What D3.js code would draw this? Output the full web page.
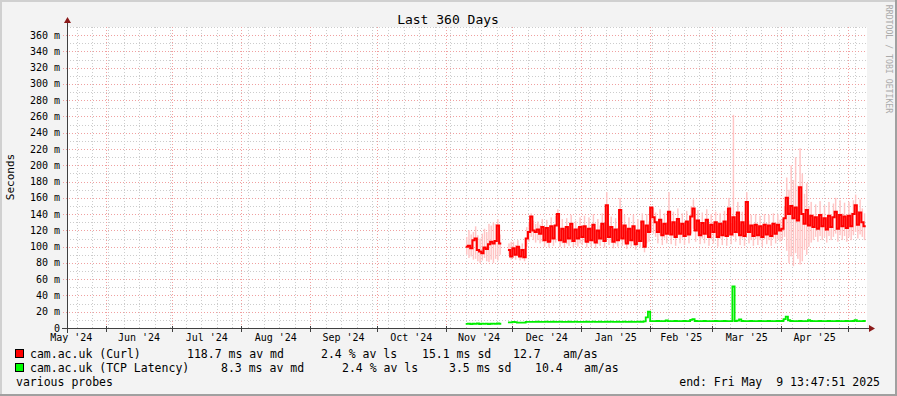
<!DOCTYPE html>
<html>
<head>
<meta charset="utf-8">
<script src="https://cdn.jsdelivr.net/npm/d3@7"></script>
<style>
body{margin:0;background:#fff;}
svg{display:block;font-family:"DejaVu Sans Mono",monospace;}
</style>
</head>
<body>
<svg id="chart" width="897" height="396"></svg>
<script>
//=============DATA==============//
// one value per day, starting 10 Nov 2024; null = no data
const firstDay = new Date(2024, 10, 10);
const startTime = new Date(2024, 4, 14, 13, 47, 51);
const endTime = new Date(2025, 4, 9, 13, 47, 51);

const curlMedian = [
  100, 101, 98, 108, 110, 96, 94, 92, 99, 97, 103, 106, 104, 107, 126, 104,
  null, null, null, 96, 88,
  98, 90, 100, 88, 96, 87, 110, 118, 137, 120, 118, 121, 116, 124, 108, 123, 106, 125, 110, 126, 140, 108, 122, 106, 124, 110, 128, 107, 121, 110, 124,
  112, 125, 106, 122, 108, 127, 105, 120, 110, 128, 107, 151, 112, 124, 106, 121, 108, 145, 110, 126, 104, 122, 108, 125, 103, 120, 107, 131, 100, 126, 118,
  148, 136, 130, 118, 133, 114, 128, 116, 143, 115, 130, 112, 134, 116, 128, 113, 131, 115, 137, 147, 120, 132, 114, 129, 116, 133, 112, 127,
  118, 130, 112, 128, 114, 131, 113, 147, 115, 136, 118, 142, 114, 130, 113, 155, 118, 126, 113, 127, 114, 125, 112, 127, 115, 126, 113, 128, 116, 127, 120,
  122, 135, 160, 140, 150, 135, 148, 132, 173, 140, 128, 145, 126, 138, 124, 136, 122, 139, 125, 135, 121, 138, 124, 136, 143, 122, 139, 125, 137, 123,
  138, 125, 140, 151, 127, 142, 130, 125
];

const curlLow = [
  90, 86, 88, 84, 85, 82, 80, 83, 86, 82, 81, 84, 80, 85, 83, 90,
  null, null, null, 90, 84,
  86, 84, 88, 83, 85, 82, 100, 106, 112, 108, 105, 108, 104, 106, 100, 104, 99, 106, 101, 105, 108, 100, 104, 99, 103, 101, 105, 99, 102, 100, 104,
  102, 106, 99, 104, 100, 106, 98, 103, 101, 106, 99, 112, 102, 105, 98, 103, 100, 110, 101, 105, 97, 103, 100, 105, 96, 102, 99, 108, 93, 104, 106,
  118, 116, 112, 104, 114, 102, 110, 104, 118, 103, 111, 101, 114, 104, 110, 102, 112, 104, 116, 122, 106, 113, 103, 110, 104, 114, 101, 109,
  104, 112, 100, 110, 102, 112, 101, 118, 103, 112, 106, 116, 102, 110, 101, 120, 104, 108, 101, 109, 102, 108, 100, 109, 103, 108, 101, 110, 104, 109, 106,
  108, 112, 95, 80, 88, 76, 92, 85, 78, 82, 96, 90, 100, 105, 108, 112, 106, 113, 108, 112, 105, 113, 108, 112, 116, 106, 114, 108, 113, 106,
  112, 108, 114, 118, 110, 115, 112, 108
];

const curlHigh = [
  112, 120, 115, 118, 125, 114, 110, 116, 122, 118, 128, 126, 130, 128, 134, 115,
  null, null, null, 104, 106,
  106, 102, 108, 100, 104, 98, 124, 130, 141, 132, 128, 131, 127, 134, 122, 133, 120, 136, 124, 138, 146, 122, 134, 120, 135, 124, 139, 121, 132, 124, 136,
  126, 138, 121, 136, 124, 140, 120, 134, 126, 141, 122, 167, 127, 137, 121, 135, 123, 160, 125, 139, 119, 136, 123, 139, 118, 134, 122, 141, 116, 140, 131,
  149, 148, 142, 131, 146, 128, 141, 130, 167, 129, 143, 126, 147, 130, 141, 127, 144, 129, 150, 158, 133, 145, 128, 142, 130, 146, 126, 140,
  131, 143, 126, 141, 128, 144, 127, 160, 129, 262, 132, 155, 128, 143, 127, 167, 132, 139, 127, 140, 128, 138, 126, 140, 129, 139, 127, 141, 130, 140, 133,
  134, 150, 185, 170, 200, 182, 210, 175, 221, 190, 165, 178, 150, 155, 140, 152, 137, 156, 141, 151, 136, 155, 140, 153, 160, 138, 157, 141, 154, 139,
  155, 142, 157, 164, 144, 158, 147, 141
];

const tcpLatency = [
  5, 5.5, 4.8, 5.2, 5, 5.6, 4.9, 5.3, 5, 5.5, 4.8, 5.2, 5.4, 5, 5.6, 5.2,
  null, null, null, 7, 7,
  7.5, 7.3, 6.6, 6.5, 6.5, 6.6, 7.5, 7.6, 7.5, 7.6, 7.5, 7.7, 7.5, 7.6, 7.5, 7.8, 7.5, 7.6, 7.7, 7.5, 7.6, 7.8, 7.5, 7.6, 7.5, 7.7, 7.6, 7.5, 7.8, 7.6, 7.5,
  7.6, 7.5, 7.7, 7.6, 7.5, 7.8, 7.6, 7.5, 7.7, 7.6, 7.5, 7.7, 7.6, 7.8, 7.5, 7.6, 7.7, 7.5, 7.6, 7.8, 7.6, 7.5, 7.7, 7.6, 7.5, 7.8, 7.6, 7.7, 8.2, 13, 20,
  8.5, 8.4, 8.5, 8.6, 8.5, 8.4, 8.5, 9.4, 8.5, 8.4, 8.5, 8.6, 8.5, 8.4, 8.5, 8.6, 8.5, 8.4, 10, 11, 8.6, 8.5, 8.4, 8.5, 8.6, 8.5, 8.4, 8.5,
  8.5, 8.6, 8.5, 8.4, 8.5, 8.6, 8.5, 8.4, 8.5, 51, 8.6, 9, 10.5, 8.6, 8.5, 8.4, 8.5, 8.6, 8.5, 8.4, 8.5, 8.6, 8.5, 8.4, 8.5, 8.6, 8.5, 8.4, 8.5, 8.6, 8.5,
  8.6, 11, 14, 9.5, 8.6, 8.5, 8.4, 8.5, 8.6, 8.5, 8.4, 8.5, 9.8, 8.6, 8.5, 8.4, 8.5, 8.6, 8.5, 8.4, 8.5, 8.6, 8.5, 8.4, 8.5, 8.6, 8.5, 8.4, 8.5, 8.6,
  8.5, 8.4, 8.6, 9.6, 8.5, 8.4, 8.5, 8.6
];

const monthLabels = ["May '24", "Jun '24", "Jul '24", "Aug '24", "Sep '24", "Oct '24",
  "Nov '24", "Dec '24", "Jan '25", "Feb '25", "Mar '25", "Apr '25"];
const yTicks = [0, 20, 40, 60, 80, 100, 120, 140, 160, 180, 200, 220, 240, 260, 280, 300, 320, 340, 360];

const legendRows = [
  {color: "#ff0000", parts: [["cam.ac.uk (Curl)", 30], ["118.7 ms av md", 187], ["2.4 % av ls", 321], ["15.1 ms sd", 422], ["12.7", 513], ["am/as", 563]]},
  {color: "#00ff00", parts: [["cam.ac.uk (TCP Latency)", 30], ["8.3 ms av md", 221], ["2.4 % av ls", 342], ["3.5 ms sd", 449], ["10.4", 535], ["am/as", 584]]}
];

//=============SETUP==============//
const W = 897, H = 396;
const svg = d3.select("#chart");
const x = d3.scaleTime().domain([startTime, endTime]).range([67, 867]);
const y = d3.scaleLinear().domain([0, 370]).range([328, 27]);
const px = v => Math.round(v) + 0.5;
const dayDate = i => d3.timeDay.offset(firstDay, i);

// canvas + frame
svg.append("rect").attr("width", W).attr("height", H).attr("fill", "#f3f3f3");
svg.append("rect").attr("x", 0).attr("y", 0).attr("width", W).attr("height", 2).attr("fill", "#d0d0d0");
svg.append("rect").attr("x", 0).attr("y", 0).attr("width", 2).attr("height", H).attr("fill", "#d0d0d0");
svg.append("rect").attr("x", 0).attr("y", H - 2).attr("width", W).attr("height", 2).attr("fill", "#a0a0a0");
svg.append("rect").attr("x", W - 2).attr("y", 0).attr("width", 2).attr("height", H).attr("fill", "#a0a0a0");

svg.append("rect")
  .attr("x", x.range()[0]).attr("y", y.range()[1])
  .attr("width", x.range()[1] - x.range()[0]).attr("height", y.range()[0] - y.range()[1])
  .attr("fill", "#ffffff");

//=============GRID==============//
const grid = svg.append("g");
const minorY = y.ticks(37).filter(v => v % 20 !== 0);
grid.selectAll(".hmin").data(minorY).enter().append("line")
  .attr("x1", x.range()[0]).attr("x2", x.range()[1])
  .attr("y1", d => px(y(d))).attr("y2", d => px(y(d)))
  .attr("stroke", "#cccccc").attr("stroke-dasharray", "1,2");

const weeks = d3.timeSunday.range(startTime, endTime);
grid.selectAll(".vmin").data(weeks).enter().append("line")
  .attr("x1", d => px(x(d))).attr("x2", d => px(x(d)))
  .attr("y1", y.range()[1]).attr("y2", y.range()[0])
  .attr("stroke", "#cccccc").attr("stroke-dasharray", "1,2");

grid.selectAll(".hmaj").data(yTicks.filter(v => v > 0)).enter().append("line")
  .attr("x1", x.range()[0] - 4).attr("x2", x.range()[1])
  .attr("y1", d => px(y(d))).attr("y2", d => px(y(d)))
  .attr("stroke", "#f0a0a0").attr("stroke-dasharray", "1,2");

const months = d3.timeMonth.range(startTime, endTime);
grid.selectAll(".vmaj").data(months).enter().append("line")
  .attr("x1", d => px(x(d))).attr("x2", d => px(x(d)))
  .attr("y1", y.range()[1]).attr("y2", y.range()[0] + 4)
  .attr("stroke", "#f0a0a0").attr("stroke-dasharray", "1,2");

//=============DATA MARKS==============//
function stepPoints(values) {
  let pts = [];
  values.forEach((v, i) => {
    pts.push({t: dayDate(i), v: v});
    let next = values[i + 1];
    if (v != null && (next == null)) pts.push({t: dayDate(i + 1), v: v});
  });
  return pts;
}

const smoke = svg.append("g");
curlLow.forEach((lo, i) => {
  if (lo == null) return;
  let x0 = x(dayDate(i)), x1 = x(dayDate(i + 1));
  smoke.append("rect")
    .attr("x", x0 + 0.3).attr("width", (x1 - x0) * 0.65)
    .attr("y", y(curlHigh[i])).attr("height", y(lo) - y(curlHigh[i]))
    .attr("fill", "#ffc4c4");
});

const line = d3.line()
  .defined(d => d.v != null)
  .x(d => x(d.t)).y(d => y(d.v))
  .curve(d3.curveStepAfter);

svg.append("path").datum(stepPoints(curlMedian))
  .attr("d", line).attr("fill", "none")
  .attr("stroke", "#ff0000").attr("stroke-width", 2);

svg.append("path").datum(stepPoints(tcpLatency))
  .attr("d", line).attr("fill", "none")
  .attr("stroke", "#00ee00").attr("stroke-width", 1.8);

//=============AXES==============//
const axisColor = "#404040";
svg.append("line").attr("x1", 62).attr("x2", 870).attr("y1", 328.5).attr("y2", 328.5).attr("stroke", axisColor);
svg.append("line").attr("x1", 67.5).attr("x2", 67.5).attr("y1", 333).attr("y2", 22).attr("stroke", axisColor);
svg.append("path").attr("d", "M64,23 L71,23 L67.5,17 Z").attr("fill", "#8b1a1a");
svg.append("path").attr("d", "M869,325 L869,332 L875,328.5 Z").attr("fill", "#8b1a1a");

// month ticks below axis
svg.selectAll(".mtick").data(months).enter().append("line")
  .attr("x1", d => px(x(d))).attr("x2", d => px(x(d)))
  .attr("y1", 326).attr("y2", 332).attr("stroke", axisColor);

svg.selectAll(".ylab").data(yTicks).enter().append("text")
  .attr("x", 60).attr("y", d => y(d) + 3.5)
  .attr("text-anchor", "end").attr("font-size", 10).attr("fill", "#000")
  .text(d => d === 0 ? "0" : d + " m");

svg.selectAll(".xlab").data(monthLabels).enter().append("text")
  .attr("x", (d, i) => {
    let m0 = d3.timeMonth.offset(d3.timeMonth.floor(startTime), i);
    let m1 = d3.timeMonth.offset(m0, 1);
    return x(new Date((m0.getTime() + m1.getTime()) / 2));
  })
  .attr("y", 341)
  .attr("text-anchor", "middle").attr("font-size", 10).attr("fill", "#000")
  .text(d => d);

//=============TEXT==============//
svg.append("text").attr("x", 448).attr("y", 23.5).attr("text-anchor", "middle")
  .attr("font-size", 13).attr("fill", "#000").text("Last 360 Days");

svg.append("text").attr("transform", "translate(14,177) rotate(-90)")
  .attr("text-anchor", "middle").attr("font-size", 11).attr("fill", "#000").text("Seconds");

svg.append("text").attr("transform", "translate(886,59) rotate(90)")
  .attr("text-anchor", "middle").attr("font-size", 8.2).attr("fill", "#aaaaaa")
  .text("RRDTOOL / TOBI OETIKER");

legendRows.forEach((row, r) => {
  let baseY = 358 + r * 14;
  svg.append("rect").attr("x", 15.5).attr("y", baseY - 8.5).attr("width", 8).attr("height", 8)
    .attr("fill", row.color).attr("stroke", "#000");
  row.parts.forEach(p => {
    svg.append("text").attr("x", p[1]).attr("y", baseY)
      .attr("font-size", 11.5).attr("fill", "#000").text(p[0]);
  });
});

svg.append("text").attr("x", 16).attr("y", 386).attr("font-size", 11.5).attr("fill", "#000").text("various probes");
svg.append("text").attr("x", 880).attr("y", 386).attr("text-anchor", "end")
  .attr("font-size", 11.5).attr("fill", "#000").attr("xml:space", "preserve")
  .style("white-space", "pre")
  .text("end: Fri May  9 13:47:51 2025");
</script>
</body>
</html>
